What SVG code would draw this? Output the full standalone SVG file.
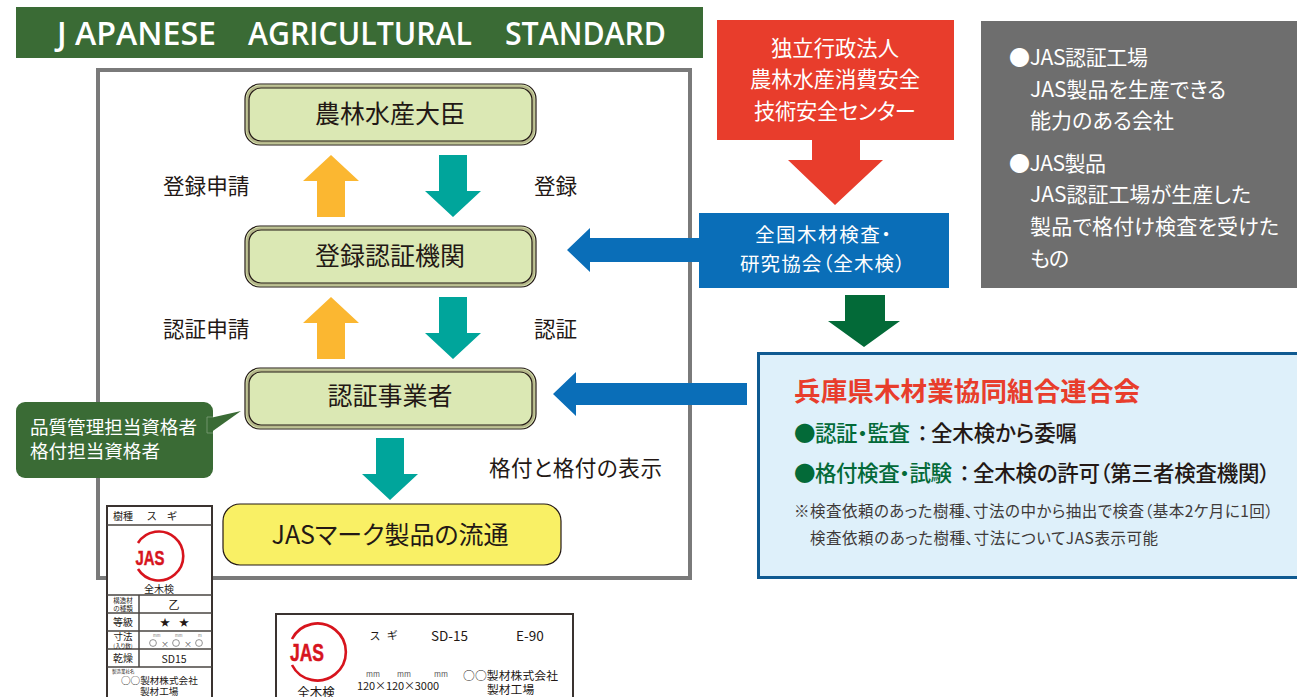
<svg xmlns="http://www.w3.org/2000/svg" width="1297" height="697" viewBox="0 0 1297 697">
<style>
text{font-family:"Noto Sans CJK JP","Noto Sans",sans-serif;fill:#231815;font-feature-settings:"palt"}
.w{fill:#fff}
.m{text-anchor:middle}
.node{font-size:25px;text-anchor:middle}
.lab{font-size:21.6px}
.outer{fill:#dbe8b4;stroke:#231815;stroke-width:1.2}
.inner{fill:#dbe8b4;stroke:#231815;stroke-width:1.2}
.band{fill:none;stroke:#b5b78a;stroke-width:2.5}
.card{fill:#fff;stroke:#3a3330;stroke-width:2}
.cl{stroke:#4a4542;stroke-width:1.5;fill:none}
.ring{fill:none;stroke:#d7141d;stroke-width:2.6}
.jas{fill:#d7141d;stroke:#d7141d;stroke-width:0.5;font-weight:700;font-family:"Liberation Sans",sans-serif}
.g{fill:#036a38}
.r{fill:#e83d2c}
.head{font-family:"Open Sans",sans-serif;font-size:32px;font-weight:600;fill:#fff}
.leg{font-size:21px}
.fl{font-size:21.5px;font-weight:500}
.note{font-size:15.5px;fill:#3e3a39}
</style>
<g id="header"><rect x="16" y="7" width="687" height="51" fill="#3a6b35"/>
<text class="head" x="57" y="45" textLength="159" lengthAdjust="spacingAndGlyphs">J APANESE</text>
<text class="head" x="248" y="45" textLength="224" lengthAdjust="spacingAndGlyphs">AGRICULTURAL</text>
<text class="head" x="505" y="45" textLength="161" lengthAdjust="spacingAndGlyphs">STANDARD</text></g>
<g id="frame"><rect x="98" y="70" width="592" height="508" fill="#fff" stroke="#7a7a7a" stroke-width="4"/></g>

<g id="connectors">
<polygon fill="#fbb731" points="331,155 359,181 345,181 345,217 317,217 317,181 303,181"/>
<polygon fill="#00a59b" points="439,155 467,155 467,191 481,191 453,217 425,191 439,191"/>
<polygon fill="#fbb731" points="331,297 359,323 345,323 345,359 317,359 317,323 303,323"/>
<polygon fill="#00a59b" points="439,297 467,297 467,333 481,333 453,359 425,333 439,333"/>
<polygon fill="#00a59b" points="376,438 404,438 404,474 418,474 390,500 362,474 376,474"/>
<polygon fill="#0a6eb8" points="567,250 590,228 590,238 699,238 699,262 590,262 590,272"/>
<polygon fill="#0a6eb8" points="553,394 576,372 576,383 747,383 747,405 576,405 576,416"/>
<polygon fill="#e83d2c" points="812,135 860,135 860,160 883,160 835,205 788,160 812,160"/>
<polygon fill="#036a38" points="845,295 885,295 885,321 900,321 864,347 828,321 845,321"/>
</g>

<g id="n1"><rect class="outer" x="245" y="84" width="291" height="61" rx="15"/><rect class="band" x="247.500" y="86.500" width="286" height="56" rx="13"/><rect class="inner" x="249" y="88" width="283" height="53" rx="12"/><text class="node" x="390" y="123">農林水産大臣</text></g>
<g id="n2"><rect class="outer" x="245" y="226" width="291" height="61" rx="15"/><rect class="band" x="247.500" y="228.500" width="286" height="56" rx="13"/><rect class="inner" x="249" y="230" width="283" height="53" rx="12"/><text class="node" x="390" y="265">登録認証機関</text></g>
<g id="n3"><rect class="outer" x="245" y="368" width="291" height="61" rx="15"/><rect class="band" x="247.500" y="370.500" width="286" height="56" rx="13"/><rect class="inner" x="249" y="372" width="283" height="53" rx="12"/><text class="node" x="390" y="405">認証事業者</text></g>
<g id="n4"><rect x="223" y="504" width="338" height="61" rx="17" fill="#f9f065" stroke="#231815" stroke-width="1.2"/><text class="node" x="390" y="544" textLength="237">JASマーク製品の流通</text></g>

<g id="labels">
<text class="lab" x="163" y="194">登録申請</text>
<text class="lab" x="534" y="194">登録</text>
<text class="lab" x="163" y="337">認証申請</text>
<text class="lab" x="534" y="337">認証</text>
<text class="lab" x="489" y="476" textLength="173">格付と格付の表示</text>
</g>

<g id="callout"><rect x="16" y="402" width="197" height="76" rx="9" fill="#3a6b35"/><polygon fill="#3a6b35" points="210,418 241,411 210,433"/>
<path d="M213 417H207V433H213" fill="none" stroke="#7d9f78" stroke-width="0.8"/>
<text class="w" x="30" y="434" font-size="18.600" textLength="167">品質管理担当資格者</text><text class="w" x="30" y="458" font-size="18.600" textLength="130">格付担当資格者</text></g>

<g id="agency"><rect x="717" y="20" width="237" height="120" fill="#e83d2c"/>
<text class="w m" x="835" y="56" font-size="21.300" textLength="128">独立行政法人</text><text class="w m" x="835" y="87" font-size="21.300" textLength="170">農林水産消費安全</text><text class="w m" x="835" y="119" font-size="21.300" textLength="162">技術安全センター</text></g>

<g id="zenmoku"><rect x="699" y="213" width="250" height="75" fill="#0a6eb8"/>
<text class="w" x="755" y="242" font-size="19.500" textLength="136">全国木材検査・</text><text class="w" x="740" y="271" font-size="19.500" textLength="165">研究協会（全木検）</text></g>

<g id="legend"><rect x="981" y="21" width="316" height="267" fill="#6e6e6e"/>
<text class="w leg" x="1009" y="65" textLength="139">●JAS認証工場</text><text class="w leg" x="1030" y="97" textLength="196">JAS製品を生産できる</text><text class="w leg" x="1030" y="128" textLength="144">能力のある会社</text>
<text class="w leg" x="1009" y="171" textLength="97">●JAS製品</text><text class="w leg" x="1030" y="202" textLength="221">JAS認証工場が生産した</text><text class="w leg" x="1030" y="234" textLength="249">製品で格付け検査を受けた</text><text class="w leg" x="1030" y="266" textLength="39">もの</text></g>

<g id="federation"><rect x="758.500" y="353.500" width="545" height="224" fill="#def0fa" stroke="#0f5a91" stroke-width="3"/>
<text class="r" x="794" y="401" font-size="26.500" font-weight="700" textLength="346">兵庫県木材業協同組合連合会</text>
<text class="fl g" x="794" y="441" textLength="116">●認証・監査</text><text class="fl" x="917" y="441">：</text><text class="fl" x="931" y="441" textLength="146">全木検から委嘱</text>
<text class="fl g" x="794" y="481" textLength="158">●格付検査・試験</text><text class="fl" x="959" y="481">：</text><text class="fl" x="973" y="481" textLength="297">全木検の許可（第三者検査機関）</text>
<text class="note" x="794" y="517" textLength="479">※検査依頼のあった樹種、寸法の中から抽出で検査（基本2ケ月に1回）</text>
<text class="note" x="810" y="544" textLength="348">検査依頼のあった樹種、寸法についてJAS表示可能</text></g>

<g id="label-card-1"><rect class="card" x="107" y="506" width="105" height="200"/>
<path class="cl" d="M107 525H212M107 595H212M107 613H212M107 631H212M107 649H212M107 667H212M139 595V667"/>
<text x="113" y="520" font-size="10">樹種</text><text x="147" y="520" font-size="10.500">ス</text><text x="167" y="520" font-size="10.500">ギ</text>
<path class="ring" d="M138 543A24.500 24.500 0 1 1 138 569"/>
<text class="jas" x="150" y="565" font-size="21" text-anchor="middle" textLength="29" lengthAdjust="spacingAndGlyphs">JAS</text>
<text class="m" x="159" y="593" font-size="10">全木検</text>
<text class="m" x="123" y="603" font-size="6.500">構造材</text><text class="m" x="123" y="611" font-size="6.500">の種類</text>
<text class="m" x="174" y="609" font-size="11">乙</text>
<text class="m" x="123" y="626" font-size="10">等級</text><text x="160" y="626" font-size="10">★</text><text x="179" y="626" font-size="10">★</text>
<text class="m" x="123" y="640" font-size="9.500">寸法</text><text class="m" x="123" y="647.500" font-size="5.500">(入り数)</text>
<text x="153" y="637" font-size="4" style="fill:#777">mm</text><text x="175" y="637" font-size="4" style="fill:#777">mm</text><text x="198" y="637" font-size="4" style="fill:#777">m</text>
<g fill="none" stroke="#777" stroke-width="0.8"><circle cx="153" cy="643" r="3.400"/><circle cx="176" cy="643" r="3.400"/><circle cx="199" cy="643" r="3.400"/></g>
<text x="161" y="646.500" font-size="8" style="fill:#555">×</text><text x="184" y="646.500" font-size="8" style="fill:#555">×</text>
<text class="m" x="123" y="662" font-size="10">乾燥</text><text class="m" x="174" y="663" font-size="10.500">SD15</text>
<text x="112" y="673" font-size="4.500">製造業社名</text><text x="121" y="684" font-size="9.600">○○製材株式会社</text><text x="140" y="695" font-size="9.600">製材工場</text></g>

<g id="label-card-2"><rect class="card" x="276" y="614" width="297" height="100"/>
<path class="ring" d="M292 639A28.500 28.500 0 1 1 292 665"/>
<text class="jas" x="307" y="661" font-size="23" text-anchor="middle" textLength="34" lengthAdjust="spacingAndGlyphs">JAS</text>
<text class="m" x="316" y="697" font-size="12.500">全木検</text>
<text x="370" y="640" font-size="11">ス</text><text x="387" y="640" font-size="11">ギ</text>
<text x="431" y="641" font-size="13.500">SD-15</text><text x="516" y="641" font-size="13.500">E-90</text>
<text x="366" y="677" font-size="7.500" style="fill:#555">mm</text><text x="397" y="677" font-size="7.500" style="fill:#555">mm</text><text x="434" y="677" font-size="7.500" style="fill:#555">mm</text>
<text x="357" y="690" font-size="11" textLength="82">120×120×3000</text>
<text x="463" y="680" font-size="11.800" textLength="95">○○製材株式会社</text><text x="487" y="694" font-size="11.800">製材工場</text></g>
</svg>
